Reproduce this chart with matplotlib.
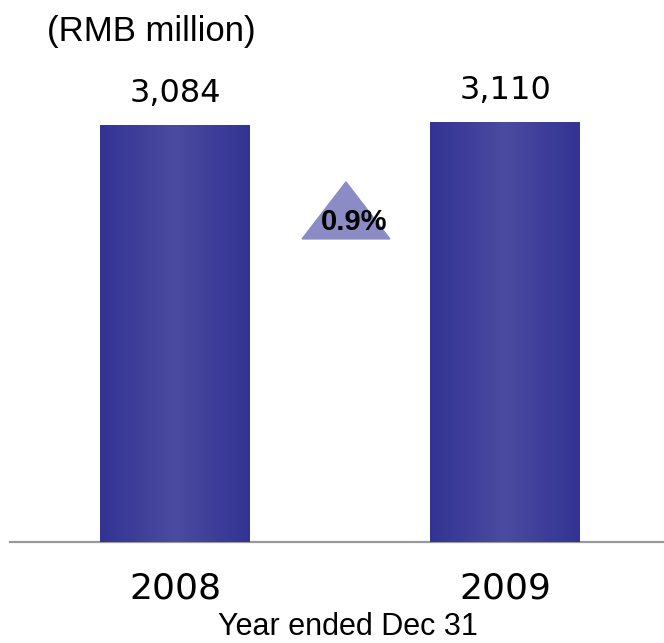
import matplotlib.pyplot as plt
import numpy as np
from matplotlib.colors import LinearSegmentedColormap

## data
years = ["2008", "2009"]
values = [3084, 3110]
value_labels = ["3,084", "3,110"]
growth_label = "0.9%"

fig = plt.figure(figsize=(6.64, 6.43), dpi=100)
ax = fig.add_axes([10/664, 101/643, 654/664, 542/643])

x = np.arange(len(years))
bars = ax.bar(x, values, width=0.4545, color='#3a3a99')

## horizontal gradient on each bar
cmap = LinearSegmentedColormap.from_list('bar', ['#333394', '#4b4ba0', '#333394'])
grad = np.linspace(0, 1, 256).reshape(1, -1)
for b in bars:
    x0, y0 = b.get_x(), b.get_y()
    w, h = b.get_width(), b.get_height()
    im = ax.imshow(grad, cmap=cmap, extent=[x0, x0 + w, y0, y0 + h],
                   aspect='auto', zorder=3)
    im.set_clip_path(b)
ax.set_xlim(-0.5, 1.4818)
ax.set_ylim(0, 4013)

for xi, v, lab in zip(x, values, value_labels):
    ax.annotate(lab, (xi, v), xytext=(0, 23), textcoords='offset points',
                ha='center', va='center', fontsize=23, family='DejaVu Sans')

## growth triangle between the bars
tri_x = 0.518
tri = plt.Polygon([[tri_x - 0.133, 2244], [tri_x + 0.133, 2244], [tri_x, 2666]],
                  closed=True, color='#8b8bc6', zorder=2)
ax.add_patch(tri)
ax.text(tri_x + 0.024, 2370, growth_label, ha='center', va='center',
        fontsize=21, fontweight='bold', family='Liberation Sans')

## axis line and labels
for s in ['top', 'right', 'left']:
    ax.spines[s].set_visible(False)
ax.spines['bottom'].set_color('#999999')
ax.spines['bottom'].set_linewidth(1.6)
ax.set_yticks([])
ax.set_xticks([])
for xi, yr in zip(x, years):
    ax.text(xi, -0.085, yr, transform=ax.get_xaxis_transform(),
            ha='center', va='center', fontsize=26, family='DejaVu Sans')

fig.text(348/664, 1 - 627/643, "Year ended Dec 31", ha='center', va='center',
         fontsize=22, family='Liberation Sans')
fig.text(47/664, 1 - 32/643, "(RMB million)", ha='left', va='center',
         fontsize=25, family='Liberation Sans')

fig.savefig('out.png', dpi=100)
